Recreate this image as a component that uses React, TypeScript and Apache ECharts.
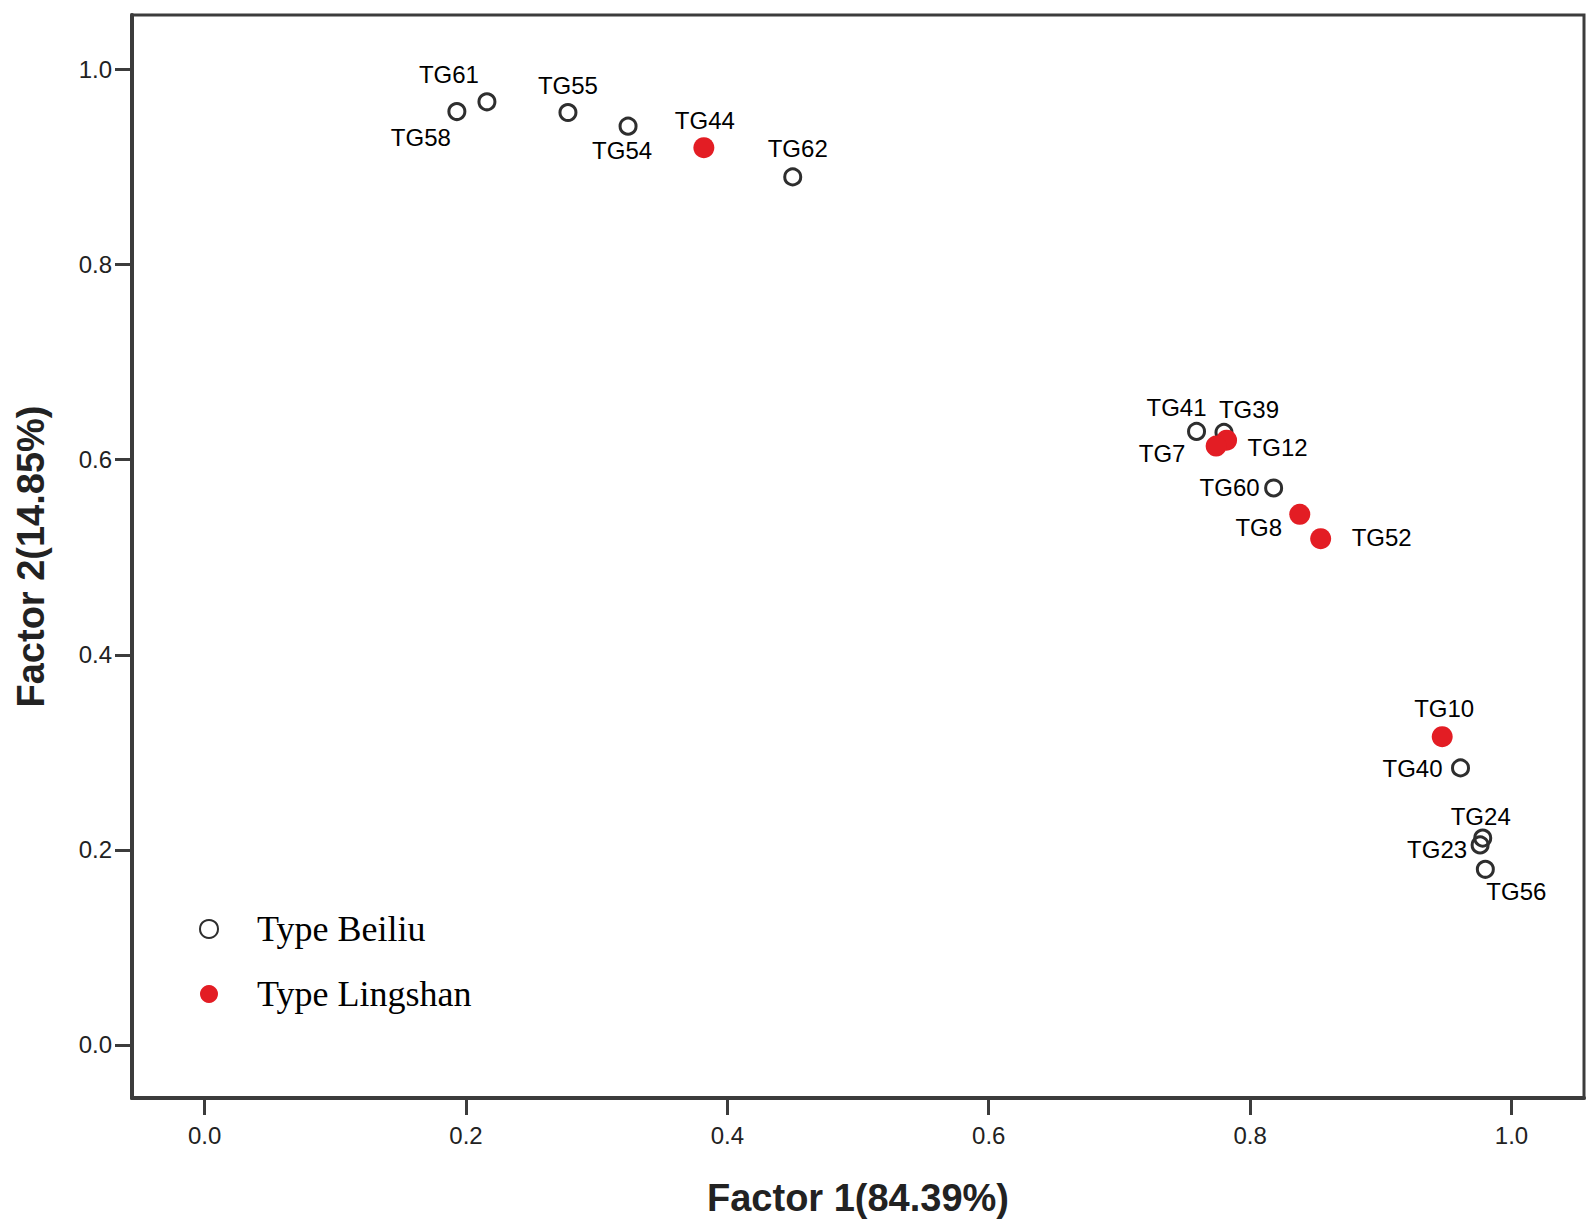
import React, { useEffect, useRef } from 'react';
import * as echarts from 'echarts';

// ---- data ----
const beiliuNames = ['TG61', 'TG58', 'TG55', 'TG54', 'TG62', 'TG41', 'TG39', 'TG60', 'TG40', 'TG24', 'TG23', 'TG56'];
const beiliuF1 = [0.216, 0.193, 0.278, 0.324, 0.450, 0.759, 0.780, 0.818, 0.961, 0.978, 0.976, 0.980];
const beiliuF2 = [0.967, 0.957, 0.956, 0.942, 0.890, 0.629, 0.628, 0.571, 0.284, 0.212, 0.205, 0.180];

const lingshanNames = ['TG44', 'TG12', 'TG7', 'TG8', 'TG52', 'TG10'];
const lingshanF1 = [0.382, 0.782, 0.774, 0.838, 0.854, 0.947];
const lingshanF2 = [0.920, 0.620, 0.614, 0.544, 0.519, 0.316];

const tickValues = [0, 0.2, 0.4, 0.6, 0.8, 1.0];
const legendNames = ['Type Beiliu', 'Type Lingshan'];
const xTitle = 'Factor 1(84.39%)';
const yTitle = 'Factor 2(14.85%)';

// label offsets (pixels, relative to point centre) – layout only
const labelOffsets: Record<string, [number, number]> = {
  TG61: [-38, -27], TG58: [-36, 26], TG55: [0, -27], TG54: [-6, 24], TG62: [5, -28],
  TG41: [-20, -24], TG39: [25, -23], TG60: [-44, 0], TG40: [-48, 1], TG24: [-2, -22],
  TG23: [-43, 5], TG56: [31, 22], TG44: [1, -27], TG12: [51, 7], TG7: [-54, 7],
  TG8: [-41, 13], TG52: [61, -1], TG10: [2, -28],
};

const AXIS_COLOR = '#3c3c3c';
const SANS = 'Liberation Sans, Arial, sans-serif';

function buildPoints(names: string[], xs: number[], ys: number[]) {
  return names.map((n, i) => ({
    name: n,
    value: [xs[i], ys[i]],
    label: { offset: labelOffsets[n] || [0, -26] },
  }));
}

const labelStyle = {
  show: true,
  position: 'inside',
  formatter: (p: any) => p.name,
  color: '#000',
  fontFamily: SANS,
  fontSize: 24,
  textBorderWidth: 0,
};

function axisCommon(name: string, min: number, max: number, margin: number, nameGap: number) {
  return {
    type: 'value',
    min,
    max,
    name,
    nameLocation: 'middle',
    nameGap,
    nameTextStyle: { fontFamily: SANS, fontSize: 38, fontWeight: 'bold', color: '#222' },
    splitLine: { show: false },
    axisLine: { show: true, onZero: false, lineStyle: { color: AXIS_COLOR, width: 4 } },
    axisTick: { show: true, customValues: tickValues, length: 17, lineStyle: { color: AXIS_COLOR, width: 3 } },
    axisLabel: {
      customValues: tickValues,
      formatter: (v: number) => v.toFixed(1),
      fontFamily: SANS,
      fontSize: 24,
      color: '#222',
      margin,
    },
  };
}

export default function App() {
  const ref = useRef<HTMLDivElement>(null);
  useEffect(() => {
    const chart = echarts.init(ref.current!, null, { renderer: 'svg' });
    const option: any = {
      animation: false,
      backgroundColor: '#fff',
      grid: {
        left: 132, right: 12, top: 15, bottom: 122,
        show: true, borderColor: AXIS_COLOR, borderWidth: 3, backgroundColor: '#fff',
      },
      xAxis: axisCommon(xTitle, -0.0556, 1.0555, 25, 81),
      yAxis: { ...axisCommon(yTitle, -0.0545, 1.056, 20, 82), nameRotate: 90 },
      legend: {
        data: legendNames,
        orient: 'vertical',
        left: 199,
        top: 909,
        padding: 0,
        itemWidth: 86,
        itemHeight: 18,
        itemGap: 25,
        textStyle: { fontFamily: 'Liberation Serif, Times New Roman, serif', fontSize: 36, color: '#000', lineHeight: 40 },
      },
      series: [
        {
          name: legendNames[0],
          type: 'scatter',
          symbol: 'circle',
          symbolSize: 16,
          itemStyle: { color: 'rgba(255,255,255,0)', borderColor: '#2e2e2e', borderWidth: 3, opacity: 1 },
          label: labelStyle,
          data: buildPoints(beiliuNames, beiliuF1, beiliuF2),
        },
        {
          name: legendNames[1],
          type: 'scatter',
          symbol: 'circle',
          symbolSize: 21,
          itemStyle: { color: '#e31d24', borderWidth: 0, opacity: 1 },
          label: labelStyle,
          data: buildPoints(lingshanNames, lingshanF1, lingshanF2),
        },
      ],
    };
    chart.setOption(option);
    return () => chart.dispose();
  }, []);
  return (
    <div
      ref={ref}
      style={{ position: 'fixed', left: 0, top: 0, width: 1596, height: 1222, background: '#fff' }}
    />
  );
}
